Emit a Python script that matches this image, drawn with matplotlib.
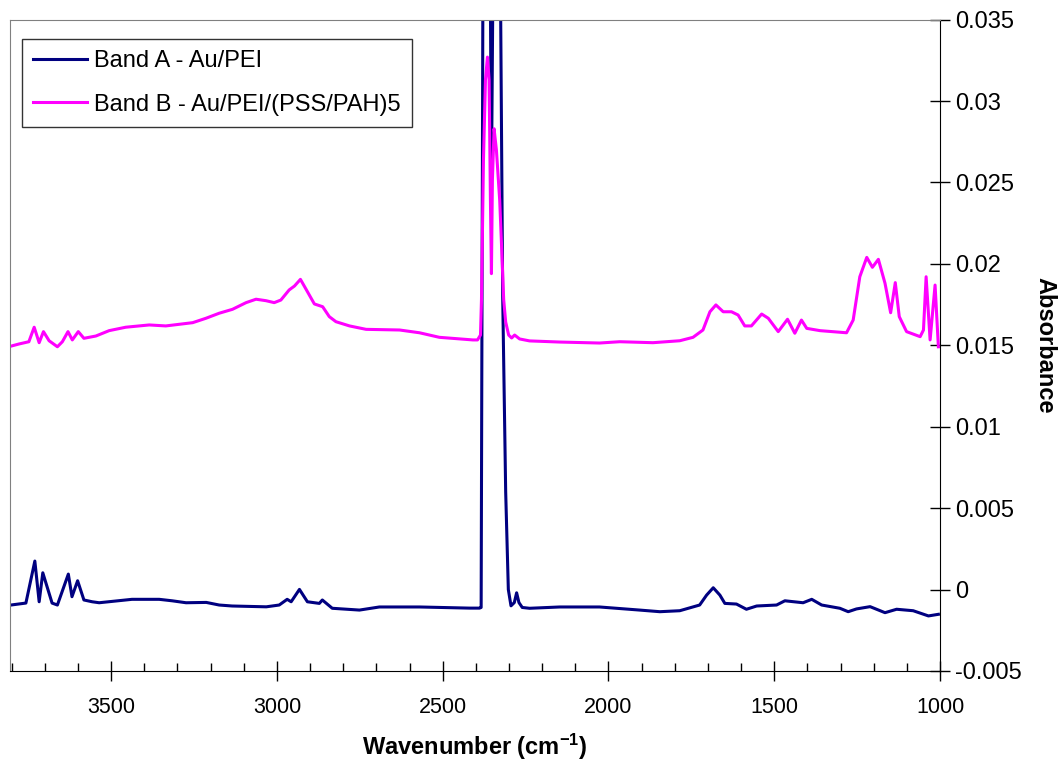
#! /usr/bin/env python

import matplotlib
matplotlib.use("Agg")
import matplotlib.pyplot as plt
import numpy as np

plt.rcParams['font.family'] = ['Liberation Sans', 'DejaVu Sans']
plt.rcParams['axes.unicode_minus'] = False
plt.rcParams['mathtext.fontset'] = 'custom'
plt.rcParams['mathtext.rm'] = 'Liberation Sans'
plt.rcParams['mathtext.bf'] = 'Liberation Sans:bold'
plt.rcParams['mathtext.default'] = 'bf'

# Band A - Au/PEI
wn_a = [3802, 3757, 3730, 3717, 3706, 3678, 3662, 3629, 3618, 3601, 3582, 3557,
        3536, 3437, 3355, 3316, 3274, 3213, 3174, 3135, 3032, 2993, 2969, 2957,
        2932, 2908, 2872, 2863, 2833, 2751, 2691, 2570, 2419, 2389, 2384,
        2378, 2365, 2353, 2340, 2325, 2319, 2310, 2302, 2294, 2284, 2277, 2270,
        2260, 2238, 2147, 2027, 1906, 1845, 1785, 1725, 1704, 1684, 1664, 1649,
        1614, 1584, 1553, 1493, 1468, 1413, 1387, 1357, 1302, 1277, 1252, 1211,
        1166, 1131, 1081, 1035, 1005]
abs_a = [-0.00095, -0.00083, 0.00175, -0.00075, 0.00103, -0.00083, -0.00095,
         0.00095, -0.00044, 0.00054, -0.00064, -0.00075, -0.00081, -0.00060,
         -0.00060, -0.00069, -0.00081, -0.00079, -0.00095, -0.00101, -0.00106,
         -0.00095, -0.00060, -0.00075, 0.00001, -0.00075, -0.00085, -0.00064,
         -0.00115, -0.00126, -0.00107, -0.00107, -0.00114, -0.00114, -0.00110,
         0.0420, 0.0700, 0.0250, 0.0600, 0.0350, 0.0180, 0.0060, 0.0000,
         -0.00100, -0.00080, -0.00020, -0.00080, -0.00110, -0.00115, -0.00107,
         -0.00107, -0.00126, -0.00136, -0.00130, -0.00095, -0.00034, 0.00011,
         -0.00034, -0.00085, -0.00089, -0.00121, -0.00101, -0.00095, -0.00069,
         -0.00081, -0.00060, -0.00095, -0.00115, -0.00136, -0.00119, -0.00105,
         -0.00142, -0.00121, -0.00130, -0.00162, -0.00152]

# Band B - Au/PEI/(PSS/PAH)5
wn_b = [3800, 3778, 3748, 3732, 3717, 3704, 3687, 3662, 3647, 3630, 3617, 3599,
        3582, 3546, 3506, 3456, 3385, 3335, 3254, 3214, 3174, 3134, 3093, 3063,
        3033, 3008, 2988, 2963, 2947, 2929, 2912, 2887, 2862, 2842, 2822, 2781,
        2731, 2630, 2570, 2510, 2409, 2395, 2386, 2383, 2377, 2371, 2365, 2360,
        2356, 2353, 2350, 2345, 2338, 2328, 2322, 2316, 2310, 2301, 2292, 2283,
        2268, 2238, 2147, 2027, 1966, 1866, 1785, 1745, 1715, 1694, 1676, 1654,
        1629, 1609, 1589, 1569, 1538, 1518, 1503, 1488, 1460, 1438, 1418, 1402,
        1362, 1282, 1262, 1242, 1221, 1204, 1186, 1166, 1149, 1135, 1123, 1101,
        1060, 1050, 1042, 1030, 1015, 1005]
abs_b = [0.01496, 0.01508, 0.01522, 0.01611, 0.01516, 0.01584, 0.01528, 0.01491,
         0.01522, 0.01584, 0.01533, 0.01584, 0.01543, 0.01557, 0.01590, 0.01611,
         0.01625, 0.01619, 0.01639, 0.01666, 0.01697, 0.01721, 0.01762, 0.01783,
         0.01774, 0.01762, 0.01778, 0.01840, 0.01864, 0.01905, 0.01844, 0.01754,
         0.01737, 0.01676, 0.01645, 0.01619, 0.01598, 0.01594, 0.01577, 0.01549,
         0.01533, 0.01533, 0.01563, 0.01780, 0.02640, 0.03130, 0.03270, 0.03130,
         0.02390, 0.01940, 0.02520, 0.02830, 0.02700, 0.02390, 0.02090, 0.01780,
         0.01643, 0.01563, 0.01545, 0.01563, 0.01539, 0.01527, 0.01520, 0.01514,
         0.01522, 0.01516, 0.01528, 0.01549, 0.01594, 0.01706, 0.01748, 0.01706,
         0.01706, 0.01686, 0.01619, 0.01619, 0.01692, 0.01666, 0.01625, 0.01584,
         0.01660, 0.01574, 0.01655, 0.01604, 0.01590, 0.01577, 0.01655, 0.01921,
         0.02040, 0.01979, 0.02028, 0.01881, 0.01700, 0.01885, 0.01676, 0.01584,
         0.01553, 0.01594, 0.01921, 0.01533, 0.01870, 0.01491]

x_ticks = [3500, 3000, 2500, 2000, 1500, 1000]
y_ticks = [-0.005, 0, 0.005, 0.01, 0.015, 0.02, 0.025, 0.03, 0.035]
y_labels = ["-0.005", "0", "0.005", "0.01", "0.015", "0.02", "0.025", "0.03", "0.035"]


def plot_spectra(output_file_name: str):
    fig = plt.figure(figsize = (10.61, 7.67), dpi = 100)
    ax = fig.add_axes([0.0094, 0.1252, 0.8766, 0.8492])
    ax.plot(wn_a, abs_a, color = '#000080', linewidth = 2.2,
            label = "Band A - Au/PEI")
    ax.plot(wn_b, abs_b, color = '#FF00FF', linewidth = 2.2,
            label = "Band B - Au/PEI/(PSS/PAH)5")
    ax.set_xlim(3805, 1000)
    ax.set_ylim(-0.005, 0.035)

    ax.set_xticks(x_ticks)
    ax.set_xticks(np.arange(1000, 3801, 100), minor = True)
    ax.set_yticks(y_ticks)
    ax.set_yticklabels(y_labels)
    ax.yaxis.tick_right()
    ax.yaxis.set_label_position('right')
    ax.tick_params(axis = 'x', which = 'major', direction = 'inout', length = 14,
                   width = 1, labelsize = 15.5, pad = 12)
    ax.tick_params(axis = 'x', which = 'minor', direction = 'in', length = 6, width = 1)
    ax.tick_params(axis = 'y', which = 'major', direction = 'inout', length = 14,
                   width = 1, labelsize = 17, pad = 4)

    ### 边框颜色 ###
    ax.spines['left'].set_color('#808080')
    ax.spines['top'].set_color('#808080')
    ax.spines['right'].set_color('black')
    ax.spines['bottom'].set_color('black')

    ax.set_xlabel("Wavenumber (cm$^{-1}$)", fontsize = 17, fontweight = 'bold',
                  labelpad = 10)
    ax.set_ylabel("Absorbance", fontsize = 17, fontweight = 'bold', rotation = 270,
                  labelpad = 8, va = 'bottom')

    leg = ax.legend(loc = 'upper left', bbox_to_anchor = (0.0125, 0.971),
                    fontsize = 17, frameon = True, fancybox = False,
                    edgecolor = 'black', handlelength = 2.25, handletextpad = 0.3,
                    labelspacing = 0.9, borderpad = 0.5, borderaxespad = 0)
    leg.get_frame().set_linewidth(1.0)
    plt.savefig(output_file_name, dpi = 100)


if __name__ == '__main__':
    plot_spectra("out.png")
